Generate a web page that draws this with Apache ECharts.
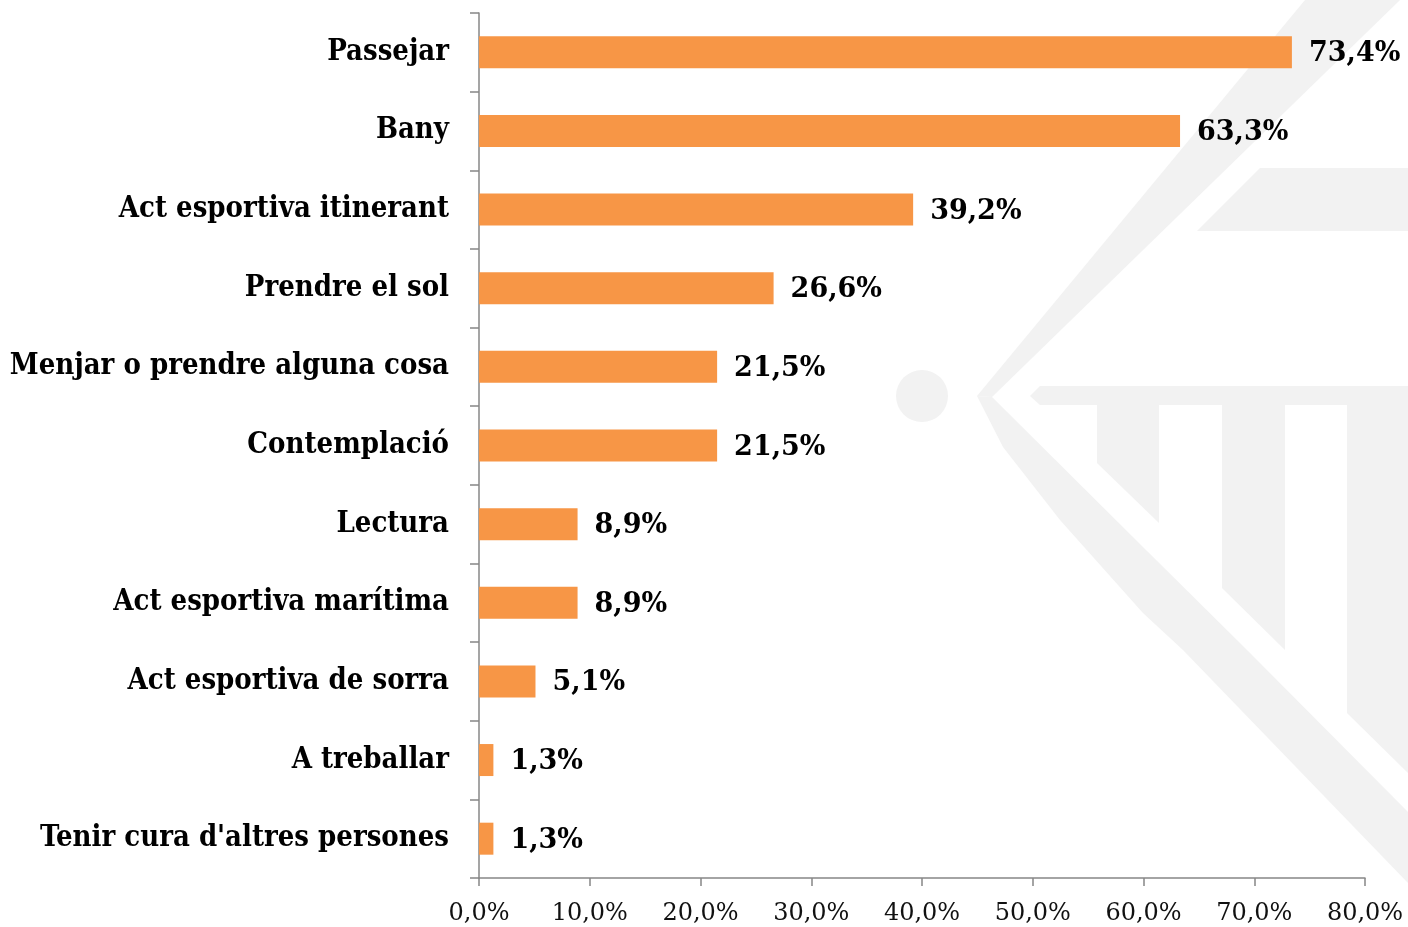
<!DOCTYPE html>
<html>
<head>
<meta charset="utf-8">
<script src="https://cdn.jsdelivr.net/npm/echarts@6/dist/echarts.min.js"></script>
<style>
  html, body { margin: 0; padding: 0; background: #fff; }
  #bar { width: 1408px; height: 927px; }
</style>
</head>
<body>
<div id="bar"></div>
<script>
var categories = ['Passejar', 'Bany', 'Act esportiva itinerant', 'Prendre el sol',
	'Menjar o prendre alguna cosa', 'Contemplació', 'Lectura', 'Act esportiva marítima',
	'Act esportiva de sorra', 'A treballar', "Tenir cura d'altres persones"];
var values = [73.4, 63.3, 39.2, 26.6, 21.5, 21.5, 8.9, 8.9, 5.1, 1.3, 1.3];
var xTicks = [0, 10, 20, 30, 40, 50, 60, 70, 80];

var serifCond = '"DejaVu Serif Condensed", "DejaVu Serif", serif';
var serif = '"DejaVu Serif", serif';
var wm = '#f2f2f2';

function pct(v) {
	return v.toFixed(1).replace('.', ',') + '%';
}

// logo de fons (marca d'aigua)
var watermark = [
	{ type: 'circle', shape: { cx: 922, cy: 396, r: 26 } },
	{ type: 'polygon', shape: { points: [[977, 396], [1305, 0], [1400, 0], [992, 397]] } },
	{ type: 'polygon', shape: { points: [[977, 396], [1003, 447], [1060, 520], [1143, 613], [1183, 650], [1408, 883], [1408, 812], [1247, 650], [1147, 551], [992, 397]] } },
	{ type: 'polygon', shape: { points: [[1260, 168], [1408, 168], [1408, 231], [1197, 231]] } },
	{ type: 'polygon', shape: { points: [[1030, 396], [1040, 386], [1408, 386], [1408, 405], [1040, 405]] } },
	{ type: 'polygon', shape: { points: [[1097, 405], [1159, 405], [1159, 523], [1097, 463]] } },
	{ type: 'polygon', shape: { points: [[1222, 405], [1285, 405], [1285, 650], [1222, 588]] } },
	{ type: 'polygon', shape: { points: [[1347, 405], [1408, 405], [1408, 773], [1347, 713]] } }
];
watermark.forEach(function(g) {
	g.style = { fill: wm };
	g.z = -10;
	g.silent = true;
});

var myChart = echarts.init(document.getElementById('bar'));
var option = {
	animation: false,
	backgroundColor: '#ffffff',
	graphic: watermark,
	grid: {
		left: 479,
		right: 43,
		top: 13,
		bottom: 49,
		containLabel: false
	},
	xAxis: {
		type: 'value',
		min: xTicks[0],
		max: xTicks[xTicks.length - 1],
		interval: 10,
		splitLine: { show: false },
		axisLine: { show: true, lineStyle: { color: '#878787', width: 1.5 } },
		axisTick: { show: true, length: 8, lineStyle: { color: '#878787', width: 1.5 } },
		axisLabel: {
			margin: 24,
			color: '#111',
			fontSize: 24,
			fontFamily: serif,
			formatter: function(v) { return pct(v); }
		}
	},
	yAxis: {
		type: 'category',
		inverse: true,
		data: categories,
		axisLine: { show: true, lineStyle: { color: '#878787', width: 1.5 } },
		axisTick: { show: true, length: 9, lineStyle: { color: '#878787', width: 1.5 } },
		axisLabel: {
			margin: 30,
			color: '#000',
			fontSize: 29,
			fontWeight: 'bold',
			fontFamily: serifCond
		}
	},
	series: [{
		type: 'bar',
		data: values,
		barWidth: 32,
		itemStyle: { color: '#f79646' },
		label: {
			show: true,
			position: 'right',
			distance: 17,
			color: '#000',
			fontSize: 27,
			fontWeight: 'bold',
			fontFamily: serif,
			offset: [0, 2],
			formatter: function(p) { return pct(p.value); }
		}
	}]
};
myChart.setOption(option);
</script>
</body>
</html>
